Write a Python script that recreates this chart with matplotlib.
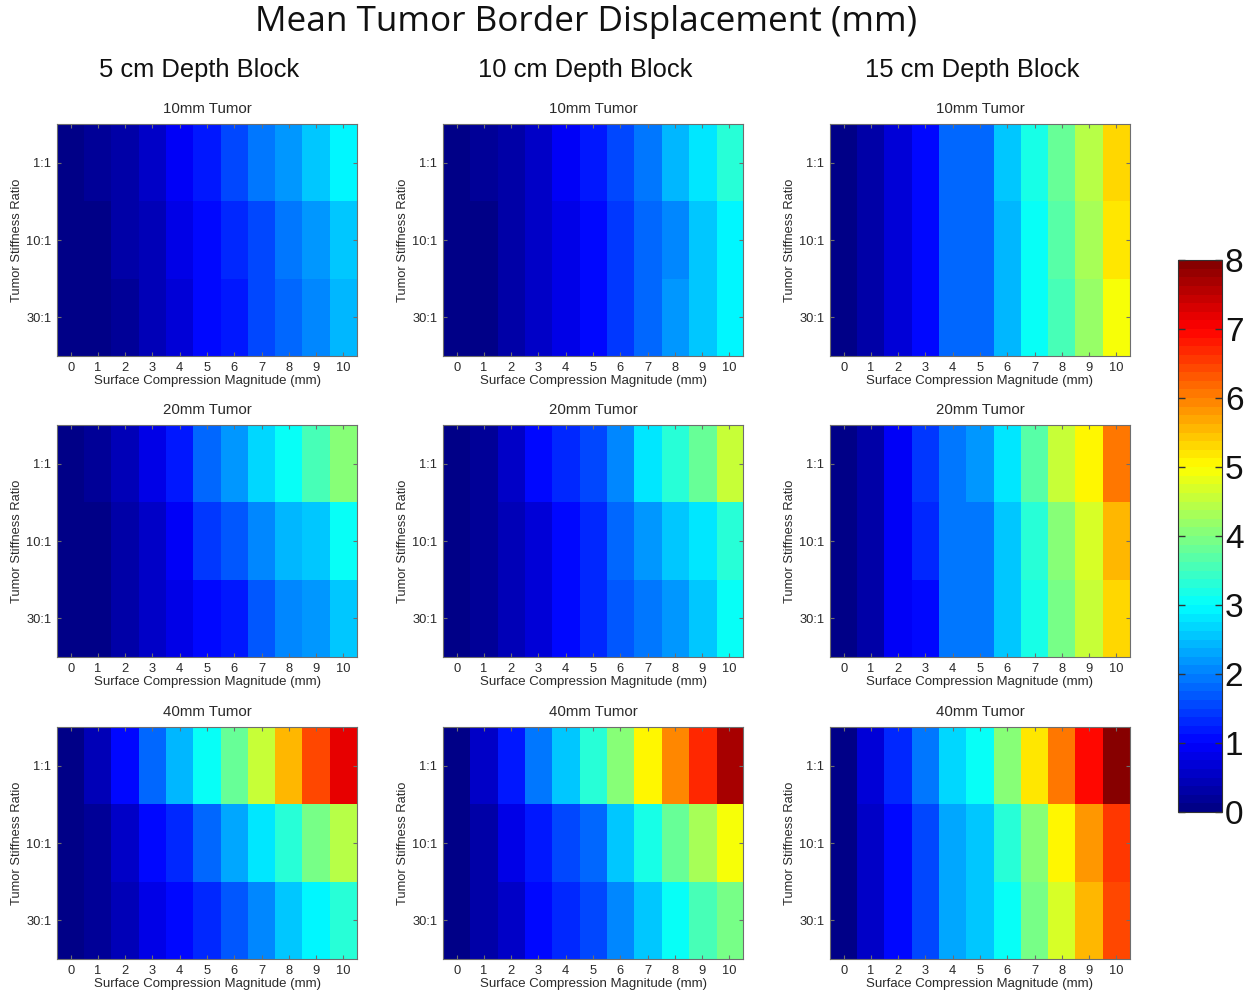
import numpy as np
import matplotlib
matplotlib.use("Agg")
import matplotlib.pyplot as plt
from matplotlib.colors import Normalize, ListedColormap

plt.rcParams['font.family'] = ['Liberation Sans', 'DejaVu Sans']

compression = list(range(11))                 # Surface Compression Magnitude (mm)
stiffness_labels = ["1:1", "10:1", "30:1"]    # Tumor Stiffness Ratio
depth_blocks = ["5 cm Depth Block", "10 cm Depth Block", "15 cm Depth Block"]
tumor_sizes = ["10mm Tumor", "20mm Tumor", "40mm Tumor"]

# Mean tumor border displacement (mm); rows = stiffness ratio 1:1, 10:1, 30:1
d5_t10 = [[0, 0.15, 0.30, 0.50, 0.90, 1.20, 1.50, 1.90, 2.20, 2.50, 2.90],
          [0, 0.12, 0.25, 0.45, 0.75, 1.05, 1.30, 1.60, 1.90, 2.20, 2.60],
          [0, 0.05, 0.20, 0.40, 0.65, 1.00, 1.20, 1.50, 1.80, 2.05, 2.40]]
d10_t10 = [[0, 0.15, 0.35, 0.60, 0.95, 1.20, 1.55, 1.95, 2.40, 2.85, 3.30],
           [0, 0.12, 0.30, 0.50, 0.80, 1.10, 1.40, 1.80, 2.10, 2.50, 2.90],
           [0, 0.05, 0.30, 0.50, 0.80, 1.00, 1.40, 1.80, 2.15, 2.55, 2.95]]
d15_t10 = [[0, 0.25, 0.70, 1.10, 1.80, 1.85, 2.50, 3.20, 3.80, 4.40, 5.30],
           [0, 0.25, 0.70, 1.05, 1.75, 1.80, 2.45, 3.10, 3.70, 4.30, 5.15],
           [0, 0.25, 0.70, 1.05, 1.75, 1.80, 2.45, 3.00, 3.60, 4.20, 4.95]]

d5_t20 = [[0, 0.15, 0.45, 0.85, 1.20, 1.80, 2.20, 2.70, 3.05, 3.60, 4.10],
          [0, 0.12, 0.35, 0.60, 0.90, 1.40, 1.70, 2.00, 2.40, 2.60, 3.00],
          [0, 0.10, 0.30, 0.55, 0.80, 1.00, 1.20, 1.70, 2.00, 2.20, 2.60]]
d10_t20 = [[0, 0.20, 0.50, 1.00, 1.30, 1.50, 2.10, 2.75, 3.30, 3.80, 4.50],
           [0, 0.15, 0.40, 0.70, 1.05, 1.35, 1.80, 2.20, 2.50, 2.85, 3.30],
           [0, 0.15, 0.40, 0.70, 1.05, 1.25, 1.70, 1.90, 2.20, 2.60, 3.00]]
d15_t20 = [[0, 0.30, 0.90, 1.40, 1.90, 2.20, 2.85, 3.70, 4.50, 5.10, 6.00],
           [0, 0.30, 0.90, 1.30, 1.90, 1.95, 2.50, 3.30, 4.10, 4.70, 5.60],
           [0, 0.30, 0.90, 1.10, 1.90, 1.90, 2.50, 3.20, 3.90, 4.60, 5.30]]

d5_t40 = [[0, 0.45, 1.05, 1.75, 2.40, 3.00, 3.80, 4.60, 5.60, 6.40, 7.20],
          [0, 0.20, 0.55, 1.00, 1.35, 1.80, 2.30, 2.85, 3.30, 3.90, 4.40],
          [0, 0.15, 0.45, 0.80, 1.00, 1.35, 1.70, 2.10, 2.50, 2.90, 3.30]]
d10_t40 = [[0, 0.55, 1.20, 1.90, 2.60, 3.30, 4.10, 5.00, 5.90, 6.70, 7.70],
           [0, 0.30, 0.75, 1.20, 1.50, 1.80, 2.50, 3.20, 3.80, 4.30, 4.90],
           [0, 0.25, 0.60, 1.05, 1.30, 1.50, 2.00, 2.50, 3.00, 3.50, 3.90]]
d15_t40 = [[0, 0.70, 1.30, 1.90, 2.70, 3.10, 4.10, 5.20, 6.00, 6.90, 8.00],
           [0, 0.60, 1.00, 1.60, 2.30, 2.50, 3.30, 4.10, 5.00, 5.80, 6.50],
           [0, 0.60, 1.00, 1.60, 2.30, 2.50, 3.05, 3.90, 4.70, 5.50, 6.40]]

grid = [[d5_t10, d10_t10, d15_t10],
        [d5_t20, d10_t20, d15_t20],
        [d5_t40, d10_t40, d15_t40]]

vmin, vmax = 0, 8


def classic_jet(n=64):
    # piecewise-linear jet with 64 discrete levels
    t = (np.arange(n) + 0.5) / n
    r = np.clip(np.minimum(4 * t - 1.5, -4 * t + 4.5), 0, 1)
    g = np.clip(np.minimum(4 * t - 0.5, -4 * t + 3.5), 0, 1)
    b = np.clip(np.minimum(4 * t + 0.5, -4 * t + 2.5), 0, 1)
    return ListedColormap(np.column_stack([r, g, b]))


cmap = classic_jet(64)
norm = Normalize(vmin=vmin, vmax=vmax)

W, H = 1252, 993
fig = plt.figure(figsize=(W / 100, H / 100), dpi=100)


def fx(px):
    return px / W


def fy(px):
    return 1 - px / H


col_left = [57, 443, 830]
row_top = [124, 425, 727]
ax_w, ax_h = 300, 232

edge = '#6e6e6e'
tick_col = '#2a2a2a'

for r in range(3):
    for c in range(3):
        ax = fig.add_axes([fx(col_left[c]), fy(row_top[r] + ax_h), ax_w / W, ax_h / H])
        data = np.array(grid[r][c])
        ax.imshow(data, cmap=cmap, norm=norm, aspect='auto', interpolation='nearest',
                  extent=(-0.5, 10.5, 2.5, -0.5))
        ax.set_xticks(compression)
        ax.set_xticklabels([str(v) for v in compression])
        ax.set_yticks(range(3))
        ax.set_yticklabels(stiffness_labels)
        ax.tick_params(direction='in', length=3, width=0.8, color=edge,
                       labelsize=9.3, labelcolor=tick_col, top=True, right=True, pad=4)
        for s in ax.spines.values():
            s.set_color(edge)
            s.set_linewidth(0.8)
        ax.set_xlabel("Surface Compression Magnitude (mm)", fontsize=9.5,
                      color=tick_col, labelpad=1)
        ax.set_ylabel("Tumor Stiffness Ratio", fontsize=9.3, color=tick_col, labelpad=2)
        ax.set_title(tumor_sizes[r], fontsize=10.8, color=tick_col, pad=8)

# Column headers
for c in range(3):
    fig.text(fx(col_left[c] + ax_w / 2 - 8), fy(70), depth_blocks[c], ha='center',
             va='center', fontsize=18.4, color='#111111')

fig.text(fx(586), fy(22), "Mean Tumor Border Displacement (mm)", ha='center',
         va='center', fontsize=25.3, color='#111111', family=['Open Sans', 'DejaVu Sans'])

# Colorbar
cax = fig.add_axes([fx(1178), fy(812), 44 / W, 552 / H])
sm = plt.cm.ScalarMappable(norm=norm, cmap=cmap)
cb = fig.colorbar(sm, cax=cax, ticks=range(vmin, vmax + 1))
cb.outline.set_edgecolor('#333333')
cb.outline.set_linewidth(0.8)
cax.tick_params(direction='in', length=5, width=1, color='#333333', labelsize=24,
                labelcolor='#111111', left=True, right=True, pad=2)

fig.savefig("out.png", dpi=100)
